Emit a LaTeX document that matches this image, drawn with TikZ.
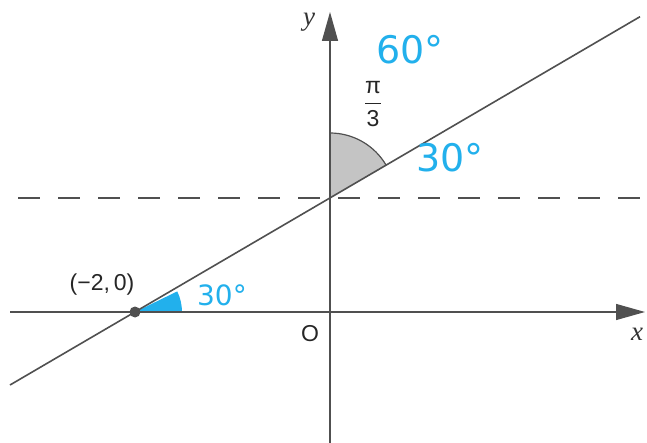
\documentclass[tikz,border=0pt]{standalone}
\usepackage{fontspec}
\setmainfont{Liberation Sans}
\newfontfamily\hand{DejaVu Sans}
\newfontfamily\serifit{Liberation Serif}
\usetikzlibrary{arrows.meta}
\definecolor{ink}{HTML}{505050}
\definecolor{cyanink}{HTML}{22B0EC}
\definecolor{wedge}{HTML}{C4C4C4}
\tikzset{
  axis/.style={draw=ink, line width=1.3pt, -{Triangle[length=29pt,width=16pt]}},
  mainline/.style={draw=ink, line width=1.6pt},
  dashline/.style={draw=ink, line width=1.4pt, dash pattern=on 22pt off 18pt},
  handtxt/.style={text=cyanink},
  lbl/.style={text=black!85, font=\fontsize{23}{23}\selectfont},
  axlbl/.style={text=black!80, font=\serifit\itshape\fontsize{27}{27}\selectfont}
}
\begin{document}
\begin{tikzpicture}[x=1pt,y=-1pt]
\useasboundingbox (0,0) rectangle (647,443);
% coordinates
\coordinate (xl) at (10,312);
\coordinate (xr) at (645,312);
\coordinate (yb) at (330,443);
\coordinate (yt) at (330,12);
\coordinate (P) at (135,312);
\coordinate (Y) at (330,198);
\coordinate (ll) at (10,385);
\coordinate (lr) at (640,16.7);
\coordinate (dl) at (18,198);
\coordinate (dr) at (647,198);
% angle fills
\fill[wedge] (Y) -- ++(0,-65) arc[start angle=-90,end angle=-30,radius=65] -- cycle;
\draw[ink, line width=1.2pt] (Y) ++(0,-65) arc[start angle=-90,end angle=-30,radius=65];
\fill[cyanink] (P) -- ++(47,0) arc[start angle=0,end angle=-26,radius=47] -- cycle;
% lines
\draw[dashline] (dl) -- (dr);
\draw[axis] (xl) -- (xr);
\draw[axis] (yb) -- (yt);
\draw[mainline] (ll) -- (lr);
\fill[ink] (P) circle[radius=5.5];
% labels
\node[lbl] (pl) at (102,285) {(−2,\,0)};
\node[lbl] (o) at (310,334) {O};
\node[lbl, inner sep=0pt] (pi) at (373,104) {$\displaystyle\frac{\mbox{π}}{\mbox{3}}$};
\node[axlbl] (ylab) at (309,22) {y};
\node[axlbl] (xlab) at (637,334) {x};
% handwritten
\node[handtxt, font=\hand\fontsize{38}{38}\selectfont] (h60) at (410,50) {60°};
\node[handtxt, font=\hand\fontsize{38}{38}\selectfont] (h30a) at (450,158) {30°};
\node[handtxt, font=\hand\fontsize{28}{28}\selectfont] (h30b) at (222,295) {30°};
\end{tikzpicture}
\end{document}
